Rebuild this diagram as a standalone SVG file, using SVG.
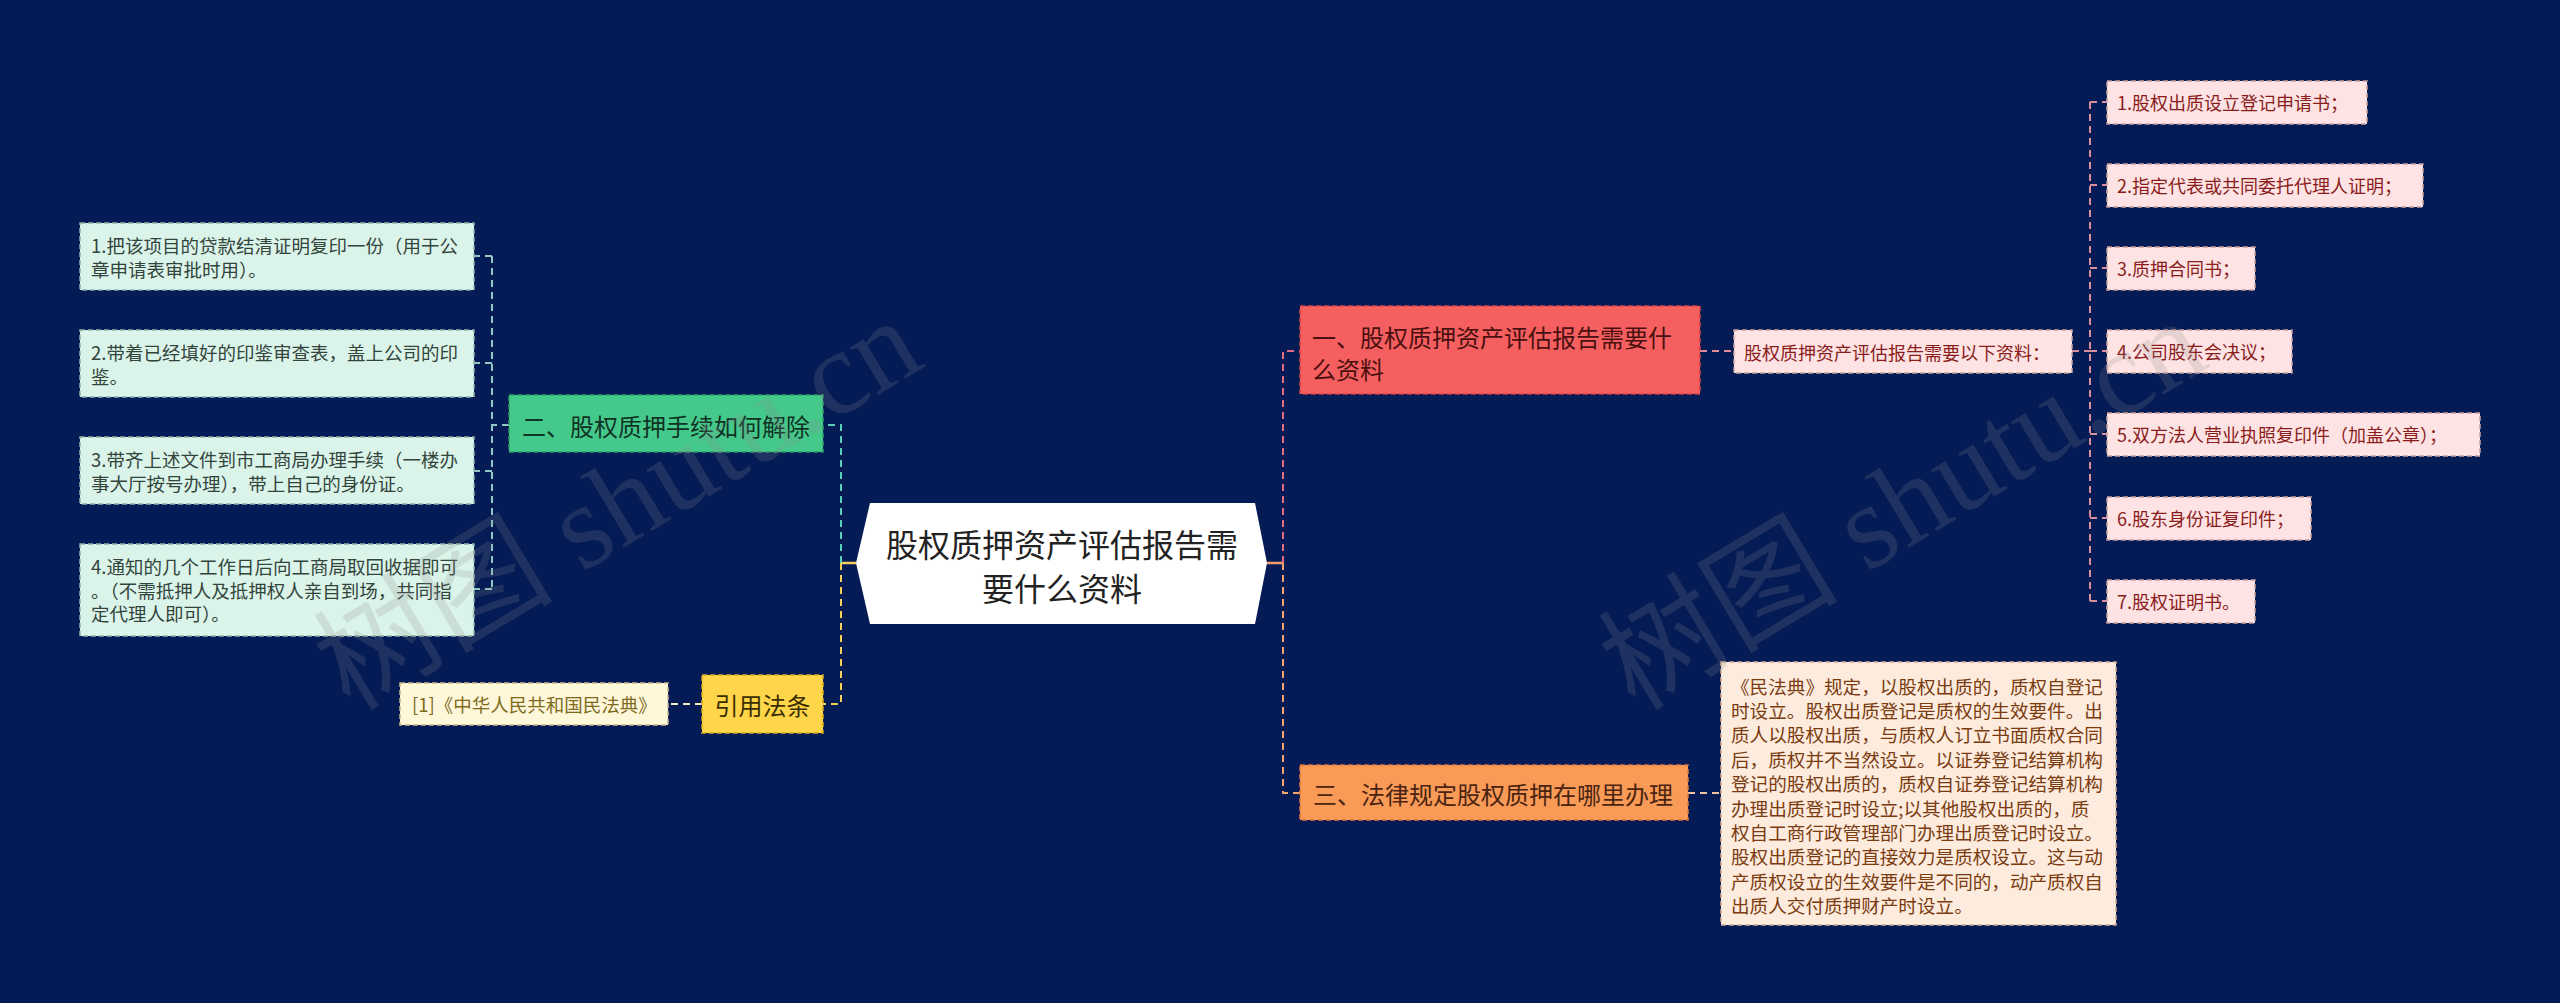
<svg xmlns="http://www.w3.org/2000/svg" width="2560" height="1003" viewBox="0 0 2560 1003">
<style>
text{font-family:"Noto Sans CJK SC","Liberation Sans",sans-serif;dominant-baseline:central}
.c{fill:none;stroke-width:2;stroke-dasharray:7 5}
.s{fill:none;stroke-width:2.5}
.lbox{fill:#dbf4e9;stroke:#8fb3a6;stroke-width:1.5;stroke-dasharray:5 3}
.ltxt{font-size:18.5px;fill:#33443d}
.rbox{fill:#fde3e3;stroke:#c9a0a0;stroke-width:1.5;stroke-dasharray:5 3}
.rtxt{font-size:18px;fill:#8a1c1c}
.wm{font-family:"Liberation Serif","Noto Sans CJK SC",serif;font-size:120px;fill:#8c8c8c;opacity:0.2;dominant-baseline:auto}
</style>
<rect x="0" y="0" width="2560" height="1003" fill="#041b56"/>

<g id="connectors">
  <path class="s" stroke="#f2d05c" d="M856 563 H841"/>
  <path class="s" stroke="#f3a06c" d="M1267 563 H1283"/>
  <path class="c" stroke="#5ccdb8" d="M841 563 V425 H823"/>
  <path class="c" stroke="#f2d05c" d="M841 563 V704 H823"/>
  <path class="c" stroke="#93c7c1" d="M509 425 H492"/>
  <path class="c" stroke="#93c7c1" d="M492 256 V589"/>
  <path class="c" stroke="#93c7c1" d="M492 256 H474 M492 363 H474 M492 471 H474 M492 589 H474"/>
  <path class="c" stroke="#f3e9c0" d="M702 704 H668"/>
  <path class="c" stroke="#e06d86" d="M1283 563 V351 H1300"/>
  <path class="c" stroke="#f3a46c" d="M1283 563 V793 H1300"/>
  <path class="c" stroke="#e58a9a" d="M1700 351 H1734"/>
  <path class="c" stroke="#d98e9c" d="M2072 351 H2090"/>
  <path class="c" stroke="#d98e9c" d="M2090 102 V601"/>
  <path class="c" stroke="#d98e9c" d="M2090 102 H2107 M2090 185 H2107 M2090 268 H2107 M2090 351 H2107 M2090 434 H2107 M2090 518 H2107 M2090 601 H2107"/>
  <path class="c" stroke="#f3c4a0" d="M1688 793 H1721"/>
</g>

<g id="center">
  <polygon points="856,563 870,503 1255,503 1267,563 1255,624 870,624" fill="#ffffff"/>
  <text x="1062" y="543" font-size="32" fill="#222" text-anchor="middle">股权质押资产评估报告需</text>
  <text x="1062" y="587" font-size="32" fill="#222" text-anchor="middle">要什么资料</text>
</g>

<g id="node-two">
  <rect x="509" y="395" width="314" height="57" fill="#45c98b" stroke="#2e9e68" stroke-width="1.5" stroke-dasharray="5 3"/>
  <text x="522" y="425" font-size="24" fill="#0f3324">二、股权质押手续如何解除</text>
</g>

<g id="item-two-1">
  <rect class="lbox" x="80" y="223" width="394" height="67"/>
  <text class="ltxt" x="91" y="245">1.把该项目的贷款结清证明复印一份（用于公</text>
  <text class="ltxt" x="91" y="268.5">章申请表审批时用）。</text>
</g>
<g id="item-two-2">
  <rect class="lbox" x="80" y="330" width="394" height="67"/>
  <text class="ltxt" x="91" y="352">2.带着已经填好的印鉴审查表，盖上公司的印</text>
  <text class="ltxt" x="91" y="375.5">鉴。</text>
</g>
<g id="item-two-3">
  <rect class="lbox" x="80" y="437" width="394" height="67"/>
  <text class="ltxt" x="91" y="459">3.带齐上述文件到市工商局办理手续（一楼办</text>
  <text class="ltxt" x="91" y="482.5">事大厅按号办理），带上自己的身份证。</text>
</g>
<g id="item-two-4">
  <rect class="lbox" x="80" y="544" width="394" height="92"/>
  <text class="ltxt" x="91" y="566">4.通知的几个工作日后向工商局取回收据即可</text>
  <text class="ltxt" x="91" y="589.5">。（不需抵押人及抵押权人亲自到场，共同指</text>
  <text class="ltxt" x="91" y="613">定代理人即可）。</text>
</g>

<g id="node-law">
  <rect x="702" y="675" width="121" height="58" fill="#ffd54a" stroke="#d9a91e" stroke-width="1.5" stroke-dasharray="5 3"/>
  <text x="762.5" y="704" font-size="24" fill="#3a2e00" text-anchor="middle">引用法条</text>
</g>
<g id="law-1">
  <rect x="400" y="683" width="268" height="42" fill="#fff7d9" stroke="#c9b98a" stroke-width="1.5" stroke-dasharray="5 3"/>
  <text x="412" y="704" font-size="18.5" fill="#7d6a1c">[1]《中华人民共和国民法典》</text>
</g>

<g id="node-one">
  <rect x="1300" y="306" width="400" height="88" fill="#f65f5f" stroke="#d84444" stroke-width="1.5" stroke-dasharray="5 3"/>
  <text x="1312" y="336" font-size="24" fill="#4a1010">一、股权质押资产评估报告需要什</text>
  <text x="1312" y="368" font-size="24" fill="#4a1010">么资料</text>
</g>
<g id="one-sub">
  <rect class="rbox" x="1734" y="330" width="338" height="43"/>
  <text class="rtxt" x="1744" y="352">股权质押资产评估报告需要以下资料：</text>
</g>
<g id="one-1"><rect class="rbox" x="2107" y="81" width="260" height="43"/><text class="rtxt" x="2117" y="102">1.股权出质设立登记申请书；</text></g>
<g id="one-2"><rect class="rbox" x="2107" y="164" width="316" height="43"/><text class="rtxt" x="2117" y="185">2.指定代表或共同委托代理人证明；</text></g>
<g id="one-3"><rect class="rbox" x="2107" y="247" width="148" height="43"/><text class="rtxt" x="2117" y="268">3.质押合同书；</text></g>
<g id="one-4"><rect class="rbox" x="2107" y="330" width="185" height="43"/><text class="rtxt" x="2117" y="351">4.公司股东会决议；</text></g>
<g id="one-5"><rect class="rbox" x="2107" y="413" width="373" height="43"/><text class="rtxt" x="2117" y="434">5.双方法人营业执照复印件（加盖公章）；</text></g>
<g id="one-6"><rect class="rbox" x="2107" y="497" width="204" height="43"/><text class="rtxt" x="2117" y="518">6.股东身份证复印件；</text></g>
<g id="one-7"><rect class="rbox" x="2107" y="580" width="148" height="43"/><text class="rtxt" x="2117" y="601">7.股权证明书。</text></g>

<g id="node-three">
  <rect x="1300" y="765" width="388" height="55" fill="#f99a57" stroke="#d9783a" stroke-width="1.5" stroke-dasharray="5 3"/>
  <text x="1313" y="793" font-size="24" fill="#4a2410">三、法律规定股权质押在哪里办理</text>
</g>
<g id="three-1">
  <rect x="1721" y="662" width="395" height="263" fill="#fdebdd" stroke="#cfae96" stroke-width="1.5" stroke-dasharray="5 3"/>
  <g font-size="18.6" fill="#7a3b10">
    <text x="1731" y="685">《民法典》规定，以股权出质的，质权自登记</text>
    <text x="1731" y="709.4">时设立。股权出质登记是质权的生效要件。出</text>
    <text x="1731" y="733.8">质人以股权出质，与质权人订立书面质权合同</text>
    <text x="1731" y="758.2">后，质权并不当然设立。以证券登记结算机构</text>
    <text x="1731" y="782.6">登记的股权出质的，质权自证券登记结算机构</text>
    <text x="1731" y="807">办理出质登记时设立;以其他股权出质的，质</text>
    <text x="1731" y="831.4">权自工商行政管理部门办理出质登记时设立。</text>
    <text x="1731" y="855.8">股权出质登记的直接效力是质权设立。这与动</text>
    <text x="1731" y="880.2">产质权设立的生效要件是不同的，动产质权自</text>
    <text x="1731" y="904.6">出质人交付质押财产时设立。</text>
  </g>
</g>

<g id="watermarks">
  <text class="wm" x="350" y="712" transform="rotate(-31 350 712)">树图 shutu.cn</text>
  <text class="wm" x="1635" y="712" transform="rotate(-31 1635 712)">树图 shutu.cn</text>
</g>
</svg>
